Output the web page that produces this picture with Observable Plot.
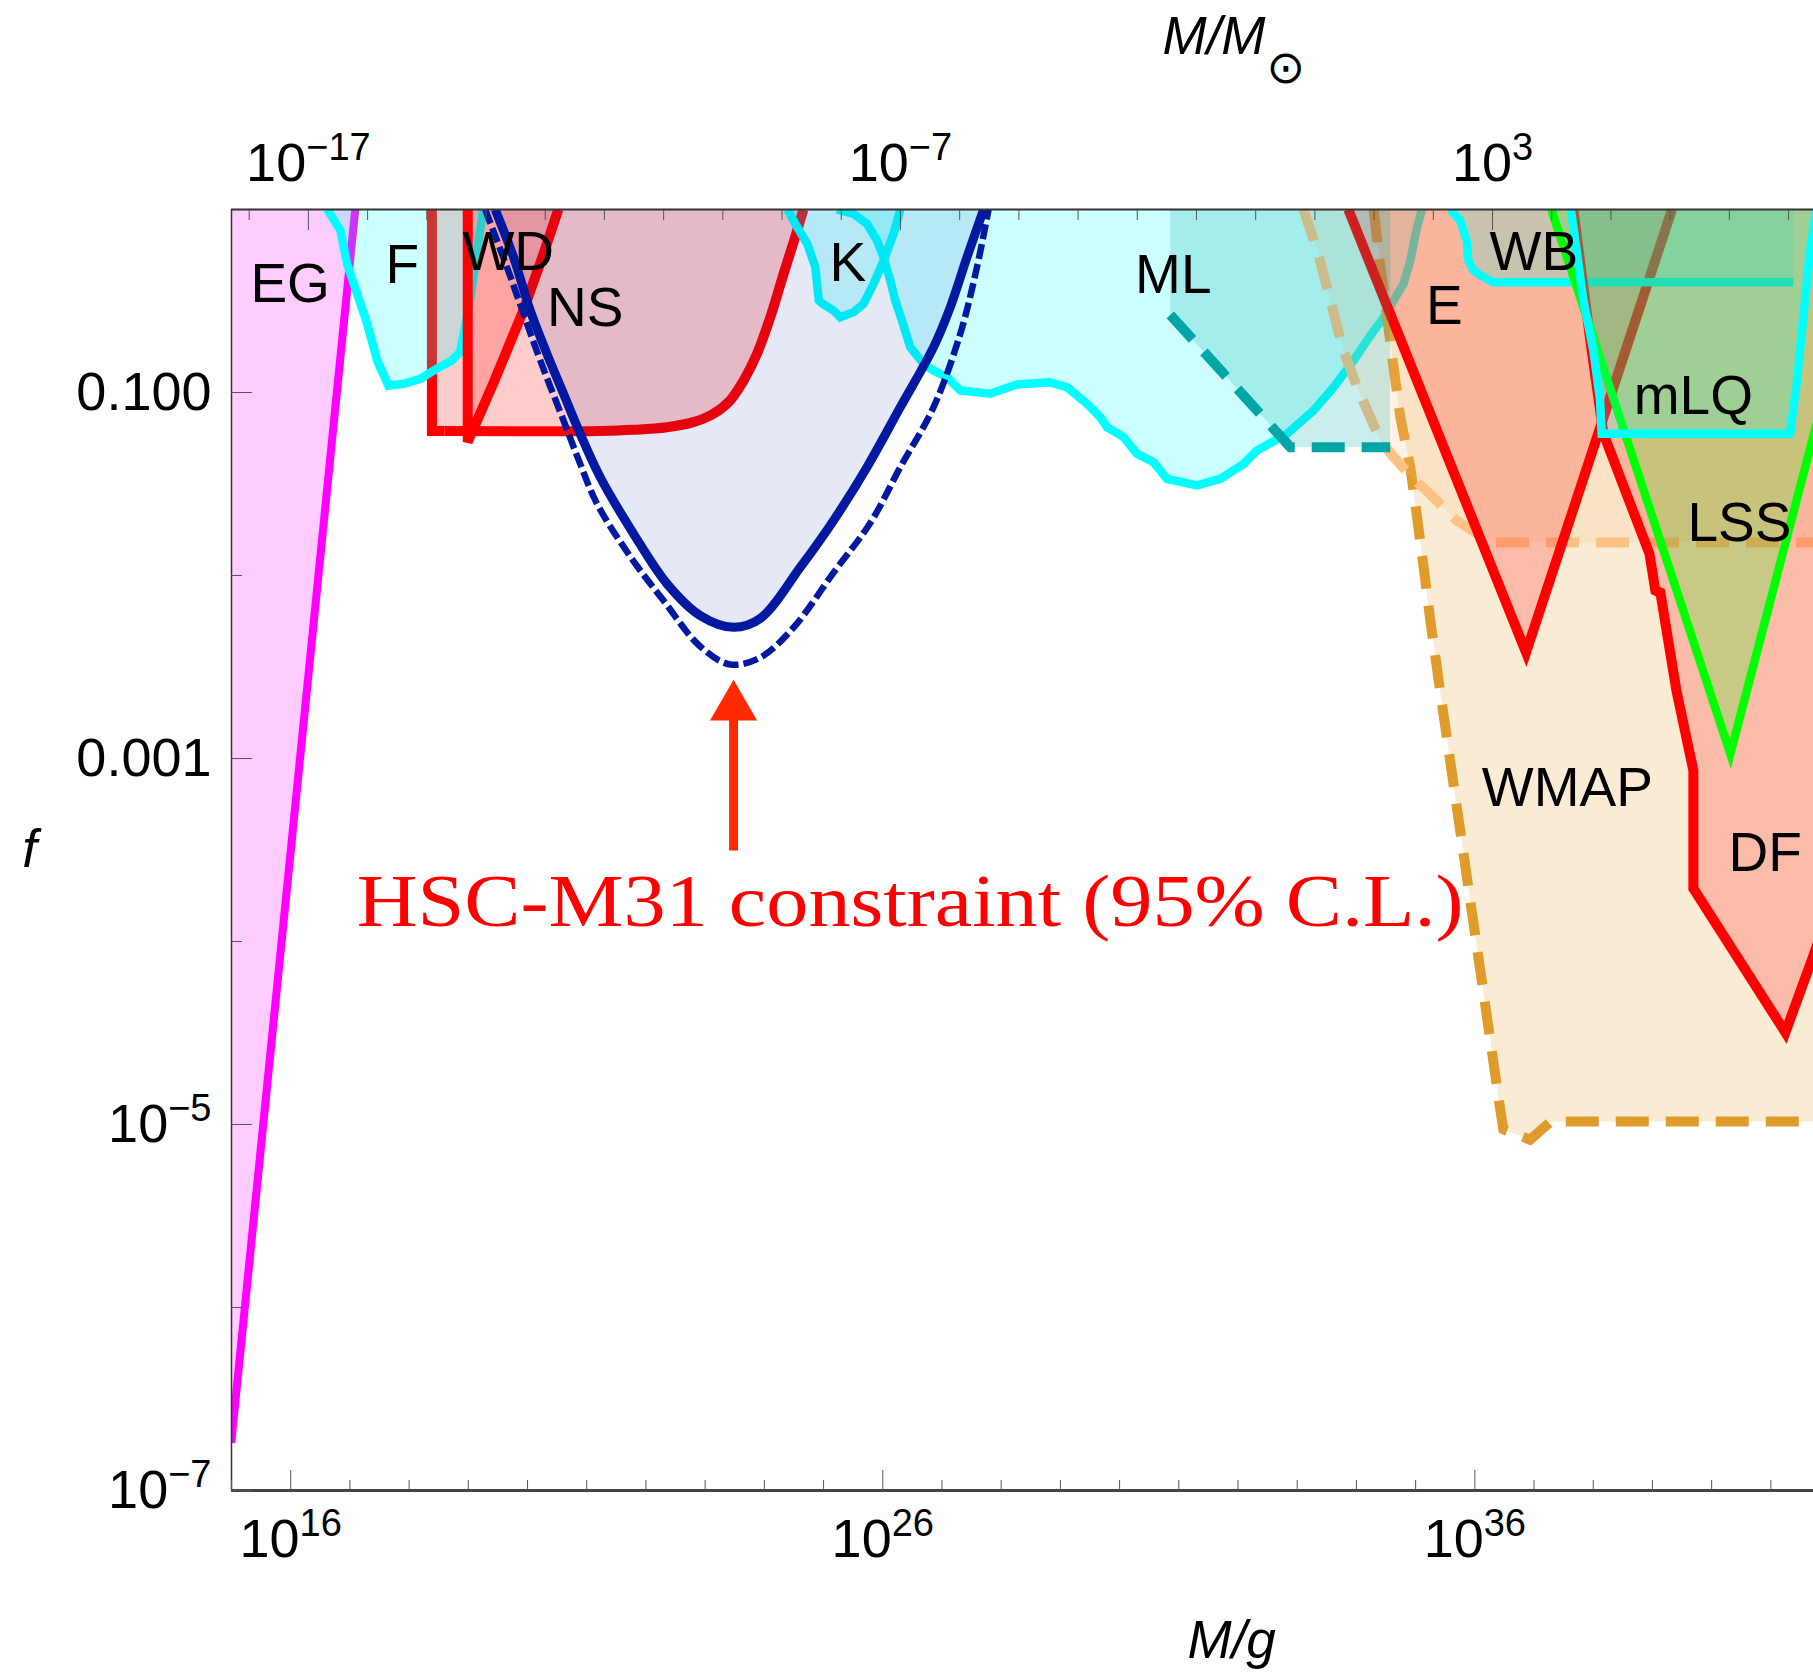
<!DOCTYPE html>
<html>
<head>
<meta charset="utf-8">
<script src="https://cdn.jsdelivr.net/npm/d3@7"></script>
<script src="https://cdn.jsdelivr.net/npm/@observablehq/plot@0.6"></script>
<style>
  body { margin: 0; background: #fff; overflow: hidden; }
</style>
</head>
<body>
<div id="chart"></div>
<script>
// All values are [log10(M / g), log10(f)].
const MSUN_LOG = 33.2986; // log10(solar mass in g)

const xDomainLog = [15, 41.72];
const yDomainLog = [-7, 0];

const xTickLogs = d3.range(15, 42);
const xLabelLogs = [16, 26, 36];
const topTickLogs = d3.range(-18, 9);      // log10(M / Msun)
const topLabelLogs = [-17, -7, 3];
const yMajorLogs = [-1, -3, -5, -7];
const yMinorLogs = [-2, -4, -6];
const yLabelText = ["0.100", "0.001", "10^−5", "10^−7"];

const EG = [[14.995, -6.74], [17.09, 0]];
const NS = [[18.385, 0], [18.385, -1.211], [18.6, -1.211], [21.23, -1.210], [21.79, -1.204], [22.355, -1.190], [22.80, -1.162], [23.14, -1.116], [23.42, -1.044], [23.65, -0.934], [23.875, -0.789], [24.10, -0.589], [24.325, -0.351], [24.52, -0.151], [24.66, 0]];
const FEMTO = [[16.62, 0], [16.84, -0.115], [16.95, -0.295], [17.12, -0.459], [17.29, -0.623], [17.46, -0.825], [17.65, -0.962], [17.91, -0.952], [18.19, -0.925], [18.47, -0.870], [18.72, -0.825], [18.86, -0.780], [19.03, -0.497], [19.15, -0.224], [19.25, 0]];
const WD = [[18.99, 0], [18.99, -1.27], [19.43, -0.944], [19.93, -0.552], [20.27, -0.242], [20.52, 0]];
const KEPLER = [[24.39, 0], [24.556, -0.097], [24.725, -0.187], [24.86, -0.315], [24.92, -0.497], [24.98, -0.514], [25.169, -0.552], [25.282, -0.589], [25.507, -0.561], [25.676, -0.515], [25.845, -0.406], [26.014, -0.279], [26.182, -0.133], [26.296, 0]];
const MICRO = [[25.226, 0], [25.507, -0.024], [25.733, -0.078], [25.902, -0.169], [26.014, -0.261], [26.127, -0.388], [26.211, -0.497], [26.324, -0.607], [26.465, -0.752], [26.689, -0.843], [26.858, -0.880], [27.084, -0.916], [27.309, -0.989], [27.816, -1.007], [28.267, -0.956], [28.801, -0.944], [29.111, -0.971], [29.449, -1.062], [29.674, -1.135], [29.787, -1.190], [30.068, -1.244], [30.294, -1.335], [30.574, -1.381], [30.801, -1.472], [31.307, -1.508], [31.701, -1.472], [32.095, -1.390], [32.321, -1.317], [32.828, -1.226], [33.277, -1.098], [33.615, -0.971], [33.953, -0.825], [34.179, -0.716], [34.460, -0.589], [34.797, -0.406], [34.910, -0.279], [35.024, -0.097], [35.108, 0]];
const HSC = [[19.454, 0], [19.764, -0.261], [20.046, -0.552], [20.328, -0.789], [20.608, -1.007], [20.890, -1.226], [21.228, -1.463], [21.791, -1.772], [22.355, -2.045], [22.917, -2.219], [23.480, -2.283], [23.931, -2.235], [24.607, -1.955], [25.169, -1.699], [25.733, -1.408], [26.296, -1.080], [26.858, -0.752], [27.140, -0.534], [27.422, -0.261], [27.703, 0]];
const HSC_DASHED = [[19.285, 0], [19.652, -0.315], [19.932, -0.570], [20.215, -0.825], [20.608, -1.153], [20.890, -1.390], [21.172, -1.607], [21.735, -1.896], [22.297, -2.137], [22.917, -2.388], [23.424, -2.486], [23.931, -2.448], [24.493, -2.284], [25.169, -1.984], [25.794, -1.710], [26.296, -1.408], [26.858, -1.080], [27.309, -0.679], [27.591, -0.315], [27.787, 0]];
const WMAP = [[34.291, 0], [34.404, -0.315], [34.517, -0.589], [34.628, -0.862], [34.741, -1.135], [34.910, -1.408], [35.024, -1.681], [35.135, -1.955], [35.248, -2.246], [35.412, -2.627], [35.581, -3.008], [35.750, -3.388], [35.919, -3.769], [36.088, -4.150], [36.257, -4.531], [36.426, -4.912], [36.481, -5.026], [36.932, -5.083], [37.270, -4.987], [37.495, -4.984], [42.5, -4.984]];
const PEACH = [[33.103, 0], [33.340, -0.224], [33.559, -0.497], [33.779, -0.770], [34.015, -0.973], [34.235, -1.137], [34.404, -1.262], [34.606, -1.344], [34.910, -1.454], [35.248, -1.557], [35.688, -1.699], [36.144, -1.792], [36.346, -1.820], [42.5, -1.820]];
const ERI = [[33.863, 0], [36.865, -2.421], [39.33, 0]];
const MICRO_DASHED = [[30.857, -0.576], [32.884, -1.299], [34.57, -1.299]];
const WB = [[35.581, 0], [35.750, -0.060], [35.861, -0.169], [35.890, -0.279], [35.975, -0.333], [36.144, -0.370], [36.313, -0.398], [41.380, -0.398]];
const DF = [[37.664, 0], [37.951, -0.716], [38.171, -1.224], [38.948, -1.880], [39.049, -2.082], [39.133, -2.093], [39.404, -2.628], [39.691, -3.066], [39.691, -3.710], [41.245, -4.497], [41.718, -4.077], [42.5, -3.35]];
const LSS = [[37.292, 0], [40.316, -2.975], [41.718, -1.238], [42.72, 0]];
const MLQ = [[37.622, 0], [37.720, -0.224], [37.833, -0.497], [38.002, -0.770], [38.115, -1.044], [38.142, -1.226], [41.324, -1.226], [41.436, -0.952], [41.549, -0.589], [41.662, -0.224], [41.768, 0]];

const labelNames = ["EG", "F", "WD", "NS", "K", "ML", "E", "WB", "mLQ", "LSS", "WMAP", "DF"];
const labelPos = [[15.99, -0.507], [17.883, -0.404], [19.674, -0.333], [20.975, -0.634], [25.409, -0.388], [30.907, -0.459], [35.483, -0.623], [36.997, -0.333], [39.691, -1.115], [40.468, -1.809], [37.562, -3.257], [40.902, -3.617]];

const hscText = "HSC-M31 constraint (95% C.L.)";
const hscTextPos = [[26.462, -3.913]];
const arrowShaft = [[23.48, -3.503], [23.48, -2.79]];
const arrowHead = [[23.48, -2.718]];

// ---------------------------------------------------------------
const P = pts => pts.map(([m, f]) => ({M: 10 ** m, f: 10 ** f}));
const poly = (pts, color, op = 0.2, curve = "linear") =>
  Plot.line(P(pts), {x: "M", y: "f", fill: color, fillOpacity: op, stroke: "none", curve, clip: true});
const path = (pts, color, w, dash, curve = "linear") =>
  Plot.line(P(pts), {x: "M", y: "f", stroke: color, strokeWidth: w, strokeDasharray: dash, curve,
    strokeLinecap: "butt", strokeLinejoin: "miter", strokeMiterlimit: 4, clip: true});

const RED = "#ff0000", CYAN = "#00ffff", BLUE = "#0019a0", MAG = "#ff00ff",
      TEAL = "#00a6a6", GOLD = "#e09c2a", PEACHC = "#ffc285", GREEN = "#00ff00";
const LONG = "33,17";
const SMOOTH = "catmull-rom";

const supFmt = e => `10^${e < 0 ? "−" + (-e) : e}`;
const sansFont = "'Liberation Sans', Arial, Helvetica, sans-serif";

const labels = labelNames.map((t, i) => ({t, M: 10 ** labelPos[i][0], f: 10 ** labelPos[i][1]}));

const plot = Plot.plot({
  width: 1813,
  height: 1672,
  marginLeft: 231,
  marginRight: 0,
  marginTop: 209,
  marginBottom: 182,
  style: {fontFamily: sansFont, background: "#fff", color: "#000"},
  x: {type: "log", domain: xDomainLog.map(e => 10 ** e)},
  y: {type: "log", domain: yDomainLog.map(e => 10 ** e)},
  marks: [
    // EG
    poly([...EG, [14.9, 0], [14.9, -6.74]], MAG),
    path(EG, MAG, 8),
    // NS (straight left edge, smooth lower-right curve)
    poly(NS, RED),
    path(NS.slice(0, 3), RED, 10),
    path(NS.slice(2), RED, 10, undefined, SMOOTH),
    // F
    poly(FEMTO, CYAN),
    path(FEMTO, CYAN, 8.5),
    // WD
    poly(WD, RED),
    path(WD, RED, 10),
    // K
    poly(KEPLER, CYAN),
    path(KEPLER, CYAN, 8.5),
    // ML
    poly(MICRO, CYAN),
    path(MICRO, CYAN, 8.5),
    // HSC
    poly(HSC, BLUE, 0.1, SMOOTH),
    path(HSC_DASHED, BLUE, 6.5, "15,5", SMOOTH),
    path(HSC, BLUE, 9, undefined, SMOOTH),
    // WMAP
    poly([...WMAP, [42.5, 0]], GOLD),
    path(WMAP, GOLD, 10, LONG),
    // peach dashed
    poly([...PEACH, [42.5, 0]], PEACHC),
    path(PEACH, PEACHC, 10, LONG),
    // E
    poly(ERI, RED),
    path(ERI, RED, 10),
    // ML dashed (teal)
    poly([[30.857, 0], ...MICRO_DASHED, [34.57, 0]], TEAL),
    path(MICRO_DASHED, TEAL, 10, LONG),
    // WB
    poly([...WB, [41.38, 0]], CYAN),
    path(WB, CYAN, 8.5),
    // DF
    poly([...DF, [42.5, 0]], RED),
    path(DF, RED, 10),
    // LSS
    poly(LSS, GREEN),
    path(LSS, GREEN, 8.5),
    // mLQ
    poly(MLQ, CYAN),
    path(MLQ, CYAN, 8.5),

    // frame lines
    Plot.ruleY([1], {stroke: "#333", strokeWidth: 2}),
    Plot.ruleX([10 ** xDomainLog[0]], {stroke: "#333", strokeWidth: 1.5}),
    Plot.ruleY([10 ** yDomainLog[0]], {stroke: "#444", strokeWidth: 3}),

    // bottom axis
    Plot.axisX(xTickLogs.filter(e => !xLabelLogs.includes(e)).map(e => 10 ** e),
      {anchor: "bottom", tickSize: -10, tickFormat: () => "", label: null, stroke: "#555"}),
    Plot.axisX(xLabelLogs.map(e => 10 ** e),
      {anchor: "bottom", tickSize: -20, tickFormat: () => "", label: null, stroke: "#555"}),
    Plot.axisX(xLabelLogs.map(e => 10 ** e),
      {anchor: "bottom", tickSize: 0, tickPadding: 28, fontSize: 54, label: null,
       tickFormat: d => supFmt(Math.round(Math.log10(d)))}),
    // top axis (M / Msun)
    Plot.axisX(topTickLogs.filter(e => !topLabelLogs.includes(e)).map(e => 10 ** (e + MSUN_LOG)),
      {anchor: "top", tickSize: -10, tickFormat: () => "", label: null, stroke: "#555"}),
    Plot.axisX(topLabelLogs.map(e => 10 ** (e + MSUN_LOG)),
      {anchor: "top", tickSize: -20, tickFormat: () => "", label: null, stroke: "#555"}),
    Plot.axisX(topLabelLogs.map(e => 10 ** (e + MSUN_LOG)),
      {anchor: "top", tickSize: 0, tickPadding: 29, fontSize: 54, label: null,
       tickFormat: d => supFmt(Math.round(Math.log10(d) - MSUN_LOG))}),
    // left axis
    Plot.axisY(yMinorLogs.map(e => 10 ** e),
      {anchor: "left", tickSize: -11, tickFormat: () => "", label: null, stroke: "#555"}),
    Plot.axisY(yMajorLogs.map(e => 10 ** e),
      {anchor: "left", tickSize: -21, tickFormat: () => "", label: null, stroke: "#555"}),
    Plot.axisY(yMajorLogs.map(e => 10 ** e),
      {anchor: "left", tickSize: 0, tickPadding: 20, fontSize: 54, label: null,
       tickFormat: d => yLabelText[yMajorLogs.indexOf(Math.round(Math.log10(d)))]}),

    // axis titles
    Plot.text(["M/M_SUN"], {frameAnchor: "top-left", dx: 931, dy: -156, text: d => d,
      textAnchor: "start", lineAnchor: "bottom", fontSize: 53, fontStyle: "italic"}),
    Plot.text(["M/g"], {frameAnchor: "bottom-left", dx: 956, dy: 167, text: d => d,
      textAnchor: "start", lineAnchor: "bottom", fontSize: 53, fontStyle: "italic"}),
    Plot.text(["f"], {frameAnchor: "left", dx: -202, text: d => d,
      textAnchor: "middle", lineAnchor: "middle", fontSize: 53, fontStyle: "italic"}),

    // region labels
    Plot.text(labels, {x: "M", y: "f", text: "t", fontSize: 55, fill: "#000",
      textAnchor: "middle", lineAnchor: "bottom"}),

    // HSC annotation
    Plot.text(P(hscTextPos), {x: "M", y: "f", text: () => hscText, fontSize: 75,
      fontFamily: "'Liberation Serif', 'DejaVu Serif', serif", fill: "#ff0000",
      textAnchor: "middle", lineAnchor: "bottom"}),
    Plot.line(P(arrowShaft), {x: "M", y: "f", stroke: "#ff2a00", strokeWidth: 9, strokeLinecap: "butt"}),
    Plot.dot(P(arrowHead), {x: "M", y: "f", symbol: "triangle", r: 17.5, fill: "#ff2a00", stroke: "none"})
  ]
});

// post-processing of text: superscripts, solar symbol, annotation width
d3.select(plot).selectAll("text").each(function () {
  const s = this.textContent;
  const sel = d3.select(this);
  let m;
  if ((m = s.match(/^10\^(.+)$/))) {
    sel.text("10");
    sel.append("tspan").attr("dy", -21).attr("font-size", 38).text(m[1]);
  } else if (s === "M/M_SUN") {
    sel.text("M/M");
    sel.append("tspan").attr("dx", 1).attr("dy", 29).attr("font-size", 46).attr("font-style", "normal")
      .attr("font-family", "'DejaVu Sans', sans-serif").text("\u2299");
  } else if (s === hscText) {
    sel.attr("textLength", 1107).attr("lengthAdjust", "spacingAndGlyphs");
  }
});

document.getElementById("chart").appendChild(plot);
</script>
</body>
</html>
